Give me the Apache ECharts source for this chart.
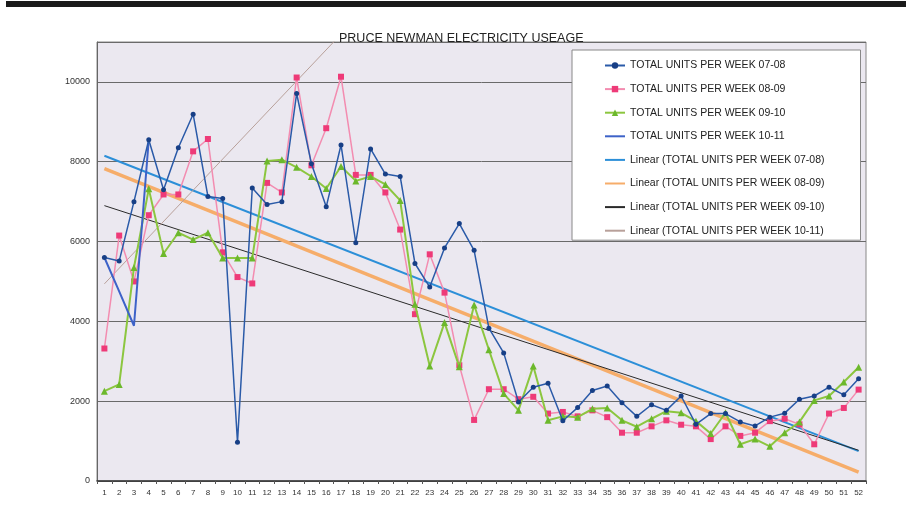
<!DOCTYPE html>
<html>
<head>
<meta charset="utf-8">
<script src="https://cdn.jsdelivr.net/npm/echarts@6/dist/echarts.min.js"></script>
<style>
  html, body { margin: 0; padding: 0; background: #fff; }
  #chart { width: 906px; height: 518px; }
</style>
</head>
<body>
<div id="chart"></div>
<script>
// weeks 1..52
const weeks = ["1","2","3","4","5","6","7","8","9","10","11","12","13","14","15","16","17","18","19","20",
  "21","22","23","24","25","26","27","28","29","30","31","32","33","34","35","36","37","38","39","40",
  "41","42","43","44","45","46","47","48","49","50","51","52"];

const units0708 = [5600, 5510, 7000, 8550, 7300, 8350, 9190, 7130, 7080, 970, 7340, 6930, 7000, 9710, 7950, 6870,
  8420, 5970, 8320, 7690, 7630, 5450, 4860, 5840, 6450, 5780, 3830, 3210, 1980, 2350, 2450, 1510, 1840, 2270,
  2380, 1960, 1620, 1910, 1770, 2130, 1420, 1690, 1690, 1480, 1380, 1600, 1700, 2050, 2130, 2350, 2160, 2560];

const units0809 = [3320, 6150, 5000, 6660, 7180, 7180, 8260, 8570, 5730, 5110, 4950, 7470, 7230, 10110, 7910, 8840,
  10130, 7670, 7670, 7230, 6300, 4180, 5680, 4720, 2900, 1530, 2300, 2300, 2050, 2110, 1690, 1730, 1620, 1770,
  1600, 1210, 1210, 1370, 1520, 1410, 1370, 1050, 1370, 1130, 1210, 1500, 1560, 1420, 920, 1690, 1830, 2290];

const units0910 = [2250, 2420, 5350, 7320, 5700, 6220, 6050, 6220, 5590, 5590, 5590, 8020, 8050, 7860, 7630, 7330,
  7880, 7520, 7630, 7430, 7030, 4430, 2880, 3970, 2860, 4410, 3290, 2190, 1770, 2880, 1520, 1620, 1600, 1810,
  1830, 1520, 1360, 1560, 1750, 1710, 1500, 1190, 1710, 920, 1050, 870, 1210, 1480, 2020, 2130, 2480, 2850];

const units1011 = [5600, 4750, 3890, 8550];

// linear trend values at week 1 and week 52
const trendStart = [8150, 7830, 6900, 4940];
const trendEnd = [750, 225, 770, 24880];

const yTicks = [0, 2000, 4000, 6000, 8000, 10000];

const seriesNames = [
  "TOTAL UNITS PER WEEK 07-08",
  "TOTAL UNITS PER WEEK 08-09",
  "TOTAL UNITS PER WEEK 09-10",
  "TOTAL UNITS PER WEEK 10-11",
  "Linear (TOTAL UNITS PER WEEK 07-08)",
  "Linear (TOTAL UNITS PER WEEK 08-09)",
  "Linear (TOTAL UNITS PER WEEK 09-10)",
  "Linear (TOTAL UNITS PER WEEK 10-11)"
];

function trendData(i) {
  const d = weeks.map(() => null);
  d[0] = trendStart[i];
  d[weeks.length - 1] = trendEnd[i];
  return d;
}

const chart = echarts.init(document.getElementById("chart"));

const trendStyles = [
  { color: "#2c8fd8", width: 2 },
  { color: "#f6ad6a", width: 3.5 },
  { color: "#2a2a2a", width: 1 },
  { color: "#b8a09a", width: 1 }
];

// legend entries: lines without markers get a hidden symbol
const legendData = seriesNames.map((name, i) => (
  i >= 3 ? { name, itemStyle: { opacity: 0 } } : { name }
));

const option = {
  backgroundColor: "#fff",
  animation: false,
  title: {
    text: "PRUCE NEWMAN ELECTRICITY USEAGE",
    left: 334,
    top: 27,
    textStyle: { fontFamily: "Liberation Sans", fontSize: 12.5, fontWeight: "normal", color: "#222" }
  },
  graphic: [
    { type: "rect", left: 6, top: 1, shape: { width: 900, height: 6 }, style: { fill: "#1a1a1a" } }
  ],
  legend: {
    orient: "vertical",
    left: 572,
    top: 50,
    padding: [10, 36, 4, 32],
    itemGap: 12.6,
    itemWidth: 20,
    itemHeight: 8,
    backgroundColor: "#fff",
    borderColor: "#888",
    borderWidth: 1,
    textStyle: { fontFamily: "Liberation Sans", fontSize: 10.5, color: "#222" },
    data: legendData
  },
  grid: {
    left: 97, right: 40, top: 42, bottom: 37,
    show: true,
    backgroundColor: "#ebe8f0",
    borderColor: "#888",
    borderWidth: 1
  },
  xAxis: {
    type: "category",
    data: weeks,
    boundaryGap: true,
    axisLine: { lineStyle: { color: "#333", width: 1.5 } },
    axisTick: { show: true, interval: 0, length: 3, lineStyle: { color: "#555" } },
    axisLabel: { interval: 0, fontFamily: "Liberation Sans", fontSize: 8, color: "#333", margin: 8 },
    splitLine: { show: false }
  },
  yAxis: {
    type: "value",
    min: 0,
    max: 11000,
    interval: 2000,
    axisLine: { show: true, lineStyle: { color: "#666" } },
    axisTick: { show: false },
    axisLabel: {
      fontFamily: "Liberation Sans", fontSize: 9, color: "#333", margin: 7,
      formatter: v => (yTicks.includes(v) ? String(v) : "")
    },
    splitLine: { show: true, lineStyle: { color: "#6a6a6a", width: 1 } }
  },
  series: [
    {
      name: seriesNames[0], type: "line", data: units0708,
      symbol: "circle", symbolSize: 5,
      lineStyle: { color: "#2a5aa8", width: 1.5 },
      itemStyle: { color: "#173f86" }, z: 5
    },
    {
      name: seriesNames[1], type: "line", data: units0809,
      symbol: "rect", symbolSize: 6,
      lineStyle: { color: "#f38cb0", width: 1.5 },
      itemStyle: { color: "#ee3a78" }, z: 3
    },
    {
      name: seriesNames[2], type: "line", data: units0910,
      symbol: "triangle", symbolSize: 7,
      lineStyle: { color: "#8cc63f", width: 2 },
      itemStyle: { color: "#6cb82c" }, z: 4
    },
    {
      name: seriesNames[3], type: "line", data: units1011,
      symbol: "none",
      lineStyle: { color: "#3d62c8", width: 2 },
      itemStyle: { color: "#3d62c8" }, z: 4
    }
  ].concat(trendStyles.map((s, i) => ({
    name: seriesNames[4 + i], type: "line", data: trendData(i),
    connectNulls: true, symbol: "none", clip: true,
    lineStyle: { color: s.color, width: s.width },
    itemStyle: { color: s.color }, z: 2
  })))
};

chart.setOption(option);
</script>
</body>
</html>
